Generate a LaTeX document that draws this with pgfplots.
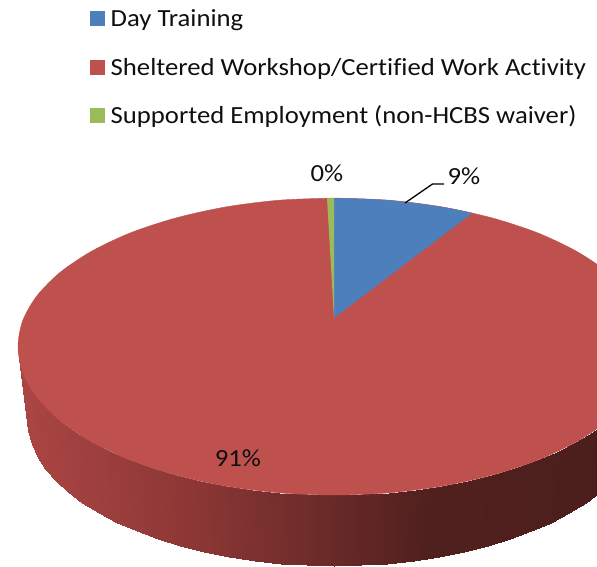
\documentclass[border=0pt]{standalone}
\usepackage{fontspec}
\setmainfont[Ligatures=NoCommon,FakeStretch=1.085]{Carlito}
\usepackage{pgfplots}
\pgfplotsset{compat=1.18}
\definecolor{pieBlue}{RGB}{76,127,188}
\definecolor{pieRed}{RGB}{190,80,77}
\definecolor{pieGreen}{RGB}{155,187,89}
\definecolor{txt}{RGB}{15,15,15}
\newcommand{\lab}{\fontsize{24.6}{28}\selectfont\color{txt}}
\begin{document}
\begin{tikzpicture}
\path[use as bounding box] (0,0) rectangle (597pt,566pt);
\begin{axis}[
  at={(0,0)},anchor=south west,
  scale only axis,width=597pt,height=566pt,
  xmin=0,xmax=597,ymin=0,ymax=566,y dir=reverse,
  hide axis,clip=true,
  colormap={wall}{rgb255(0)=(174,71,69) rgb255(100)=(156,63,61) rgb255(200)=(138,54,52) rgb255(300)=(112,45,43) rgb255(430)=(80,32,30) rgb255(650)=(74,30,28)},
  point meta min=0,point meta max=650,
]
% side wall of the pie, top and bottom edge per row, meta runs with x
\addplot[surf,shader=interp,mesh/rows=33,mesh/cols=2,point meta=explicit] table[meta=m] {
x y m
18 346.5 18
27 418 18
19.2 359.4 19
28.2 430.9 19
22.7 372.3 23
31.6 443.8 23
28.8 384.9 29
37.5 456.3 29
37 397.3 37
45.4 468.6 37
47.6 409.3 48
55.8 480.5 48
60.3 420.8 60
68.1 492 60
75.1 431.7 75
82.5 502.9 75
92 442 92
98.8 513.2 92
110.6 451.5 111
116.9 522.7 111
130.8 460.3 131
136.6 531.4 131
152.7 468.2 153
157.9 539.2 153
176 475.1 176
180.5 546.2 176
200.5 481.1 200
204.3 552.1 200
225.9 486.1 226
229 557.1 226
252.2 489.9 252
254.5 561 252
279 492.8 279
280.6 563.8 279
306.5 494.4 306
307.2 565.4 306
334 495 334
334 566 334
361.5 494.4 361
360.8 565.4 361
389 492.8 389
387.4 563.8 389
415.8 489.9 416
413.5 561 416
442.1 486.1 442
439 557.1 442
467.5 481.1 467
463.7 552.1 467
492 475.1 492
487.5 546.2 492
515.3 468.2 515
510.1 539.2 515
537.2 460.3 537
530.6 531.4 537
557.4 451.5 557
551.1 522.7 557
576 442 576
569.2 513.2 576
592.9 431.7 593
585.5 502.9 593
607.7 420.8 608
599.9 492 608
620.4 409.3 620
612.2 480.5 620
631 397.3 631
622.6 468.6 631
};
% top face
\addplot[fill=pieRed,draw=pieRed,smooth] coordinates {
(334,198)(389,200.2)(442.1,206.9)(492,217.9)(537.2,232.7)(576,251)(607.7,272.2)(631,295.7)(645.3,320.7)(650,346.5)
(645.3,372.3)(631,397.3)(607.7,420.8)(576,442)(537.2,460.3)(492,475.1)(442.1,486.1)(389,492.8)(334,495)
(279,492.8)(225.9,486.1)(176,475.1)(130.8,460.3)(92,442)(60.3,420.8)(37,397.3)(22.7,372.3)(18,346.5)
(22.7,320.7)(37,295.7)(60.3,272.2)(92,251)(130.8,232.7)(176,217.9)(225.9,206.9)(279,200.2)(334,198)
} -- cycle;
% slices
\addplot[fill=pieBlue,draw=none] coordinates {
(334,318)(334,198)(361.6,198.6)(389,200.2)(415.8,203.1)(442.1,206.9)(457.5,209.8)(472.4,213)
} -- cycle;
\addplot[fill=pieGreen,draw=none] coordinates {
(334,318)(327,198.2)(334,198)
} -- cycle;
% leader line for 9%
\addplot[black,line width=1.3pt] coordinates {(405,203)(432.5,184)(444,184)};
% legend swatches
\addplot[fill=pieBlue,draw=none] coordinates {(90,11)(105,11)(105,26)(90,26)} -- cycle;
\addplot[fill=pieRed,draw=none] coordinates {(90,60)(105,60)(105,75)(90,75)} -- cycle;
\addplot[fill=pieGreen,draw=none] coordinates {(90,108)(105,108)(105,123)(90,123)} -- cycle;
\node[anchor=base west,inner sep=0pt] at (axis cs:110.5,26) {\lab Day Training};
\node[anchor=base west,inner sep=0pt] at (axis cs:110.5,75) {\lab Sheltered Workshop/Certified Work Activity};
\node[anchor=base west,inner sep=0pt] at (axis cs:110.5,123) {\lab Supported Employment (non-HCBS waiver)};
\node[anchor=base,inner sep=0pt] at (axis cs:327,181) {\lab 0\%};
\node[anchor=base,inner sep=0pt] at (axis cs:464,184) {\lab 9\%};
\node[anchor=base,inner sep=0pt] at (axis cs:238,466) {\lab 91\%};
\end{axis}
\end{tikzpicture}
\end{document}
